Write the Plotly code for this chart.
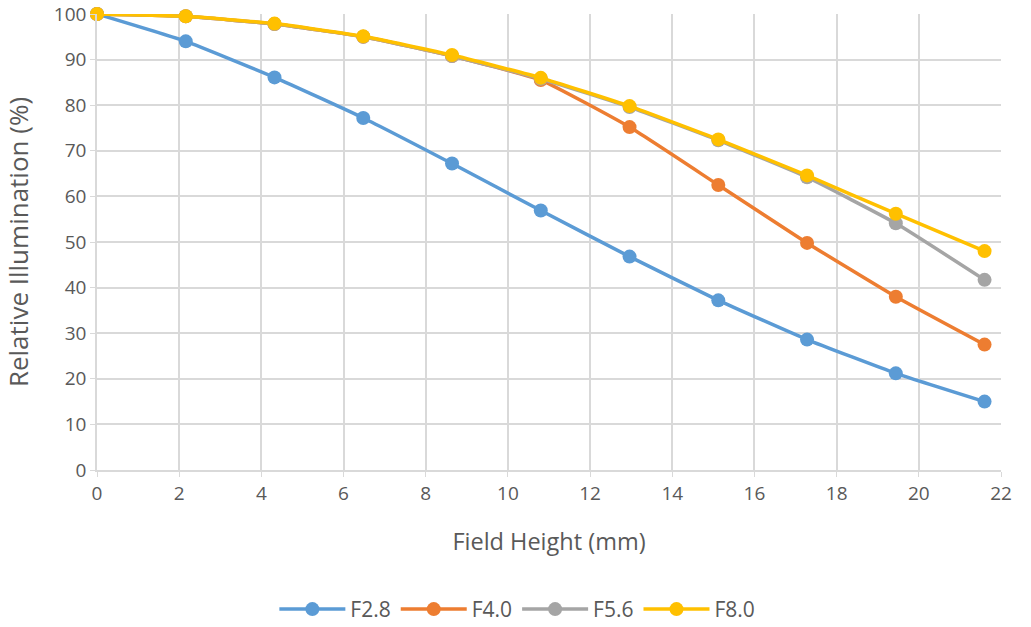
import plotly.graph_objects as go

field_height = [0, 2.16, 4.32, 6.48, 8.64, 10.8, 12.96, 15.12, 17.28, 19.44, 21.6]
f28 = [100, 94.0, 86.1, 77.2, 67.2, 56.9, 46.8, 37.2, 28.6, 21.2, 15.0]
f40 = [100, 99.5, 97.8, 95.0, 90.8, 85.5, 75.2, 62.5, 49.8, 38.0, 27.5]
f56 = [100, 99.5, 97.8, 95.0, 90.8, 85.8, 79.6, 72.3, 64.2, 54.1, 41.7]
f80 = [100, 99.5, 97.9, 95.1, 91.0, 86.0, 79.8, 72.5, 64.6, 56.2, 48.0]

series = [("F2.8", f28, "#5B9BD5"), ("F4.0", f40, "#ED7D31"),
          ("F5.6", f56, "#A5A5A5"), ("F8.0", f80, "#FFC000")]

fig = go.Figure()
for name, vals, col in series:
    fig.add_trace(go.Scatter(
        x=field_height, y=vals, name=name, mode="lines+markers",
        line=dict(color=col, width=3.5, shape="spline", smoothing=0.4),
        marker=dict(color=col, size=14),
        cliponaxis=False,
    ))

font_family = "Open Sans, Liberation Sans, sans-serif"
grey = "#595959"
fig.update_layout(
    width=1031, height=627,
    margin=dict(l=97, r=30, t=14, b=157),
    plot_bgcolor="white", paper_bgcolor="white",
    font=dict(family=font_family, color=grey, size=18),
    showlegend=True,
    legend=dict(orientation="h", x=0.465, xanchor="center", yref="container",
                y=0.028, yanchor="middle",
                font=dict(size=21, color=grey), itemwidth=66),
    xaxis=dict(range=[0, 22], dtick=2, showgrid=True, gridcolor="#D9D9D9", gridwidth=1.5,
               zeroline=False, showline=True, linecolor="#D9D9D9", linewidth=1.5,
               ticks="outside", ticklen=5, tickcolor="#D9D9D9", automargin=False,
               title=dict(text="Field Height (mm)", font=dict(size=23.5, color=grey), standoff=29),
               tickfont=dict(size=19, color=grey)),
    yaxis=dict(range=[0, 100], dtick=10, showgrid=True, gridcolor="#D9D9D9", gridwidth=1.5,
               zeroline=False, showline=True, linecolor="#D9D9D9", linewidth=1.5,
               ticks="outside", ticklen=5, tickcolor="#D9D9D9", automargin=False,
               title=dict(text="Relative Illumination (%)", font=dict(size=26, color=grey), standoff=30),
               tickfont=dict(size=19, color=grey)),
)
fig.write_html("out.html", config={"displayModeBar": False},
               post_script="document.body.style.margin='0';")
